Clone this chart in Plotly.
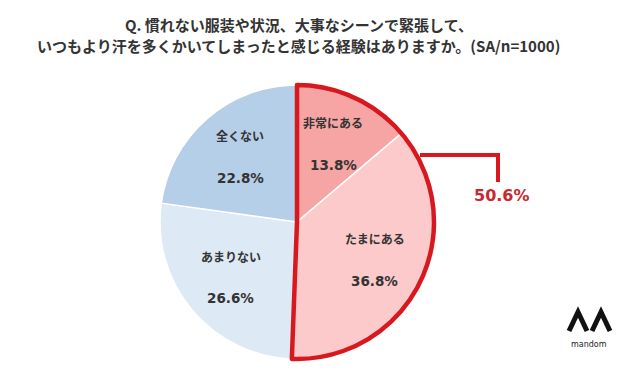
import math
import plotly.graph_objects as go

categories = ["非常にある", "たまにある", "あまりない", "全くない"]
values = [13.8, 36.8, 26.6, 22.8]
colors = ["#f6a4a4", "#fccaca", "#dde9f4", "#b6cfe8"]
group_values = [50.6, 49.4]
group_label = "50.6%"

W, H = 640, 381
def px(x): return x / W
def py(y): return 1 - y / H

cx, cy, R = 297, 222, 137
dom = dict(x=[px(cx - R), px(cx + R)], y=[py(cy + R), py(cy - R)])
FONT = "Noto Sans CJK JP"

fig = go.Figure()
fig.add_trace(go.Pie(
    labels=categories, values=values, sort=False, direction="clockwise", rotation=0,
    marker=dict(colors=colors, line=dict(color="white", width=1.5)),
    textinfo="none", domain=dom, showlegend=False, hoverinfo="skip",
))
fig.add_trace(go.Pie(
    labels=["group", "rest"], values=group_values, sort=False, direction="clockwise", rotation=0,
    marker=dict(colors=["rgba(0,0,0,0)", "rgba(0,0,0,0)"],
                line=dict(color=["#d7191f", "rgba(0,0,0,0)"], width=[4.5, 0])),
    textinfo="none", domain=dom, showlegend=False, hoverinfo="skip",
))

# slice labels, placed at each slice's mid-angle
total = sum(values)
cum = 0.0
for lab, v in zip(categories, values):
    mid = (cum + v / 2) / total * 2 * math.pi
    cum += v
    bx = cx + 0.63 * R * math.sin(mid)
    by = cy - 0.63 * R * math.cos(mid)
    fig.add_annotation(x=px(bx), y=py(by - 21), xref="paper", yref="paper",
                       xanchor="center", yanchor="middle", showarrow=False,
                       text=f"<b>{lab}</b>", font=dict(family=FONT, size=12, color="#333333"))
    fig.add_annotation(x=px(bx), y=py(by + 21), xref="paper", yref="paper",
                       xanchor="center", yanchor="middle", showarrow=False,
                       text=f"<b>{v:.1f}%</b>", font=dict(family="DejaVu Sans", size=13.5, color="#333333"))

# bracket to total
fig.add_shape(type="path", xref="paper", yref="paper",
              path=f"M {px(420)} {py(155)} L {px(498)} {py(155)} L {px(498)} {py(182)}",
              line=dict(color="#d7191f", width=4))
fig.add_annotation(x=px(502), y=py(195), xref="paper", yref="paper", text=f"<b>{group_label}</b>",
                   xanchor="center", yanchor="middle", showarrow=False,
                   font=dict(family="DejaVu Sans", size=16, color="#c8282e"))

# title
fig.add_annotation(x=px(299), y=py(25), xref="paper", yref="paper",
                   text="<b>Q. 慣れない服装や状況、大事なシーンで緊張して、</b>",
                   xanchor="center", yanchor="middle", showarrow=False,
                   font=dict(family=FONT, size=15, color="#333333"))
fig.add_annotation(x=px(298), y=py(46), xref="paper", yref="paper",
                   text="<b>いつもより汗を多くかいてしまったと感じる経験はありますか。(SA/n=1000)</b>",
                   xanchor="center", yanchor="middle", showarrow=False,
                   font=dict(family=FONT, size=15, color="#333333"))

# logo
for x0 in (569, 592):
    fig.add_shape(type="path", xref="paper", yref="paper",
                  path=f"M {px(x0)} {py(331)} L {px(x0+9)} {py(312)} L {px(x0+18)} {py(331)}",
                  line=dict(color="#111111", width=5))
fig.add_annotation(x=px(589), y=py(344), xref="paper", yref="paper", text="mandom",
                   xanchor="center", yanchor="middle", showarrow=False,
                   font=dict(family="DejaVu Sans", size=8, color="#222222"))

fig.update_layout(width=W, height=H, margin=dict(l=0, r=0, t=0, b=0),
                  paper_bgcolor="white", plot_bgcolor="white")
fig.write_html("out.html", config={"displayModeBar": False},
               post_script="document.body.style.margin='0';")
